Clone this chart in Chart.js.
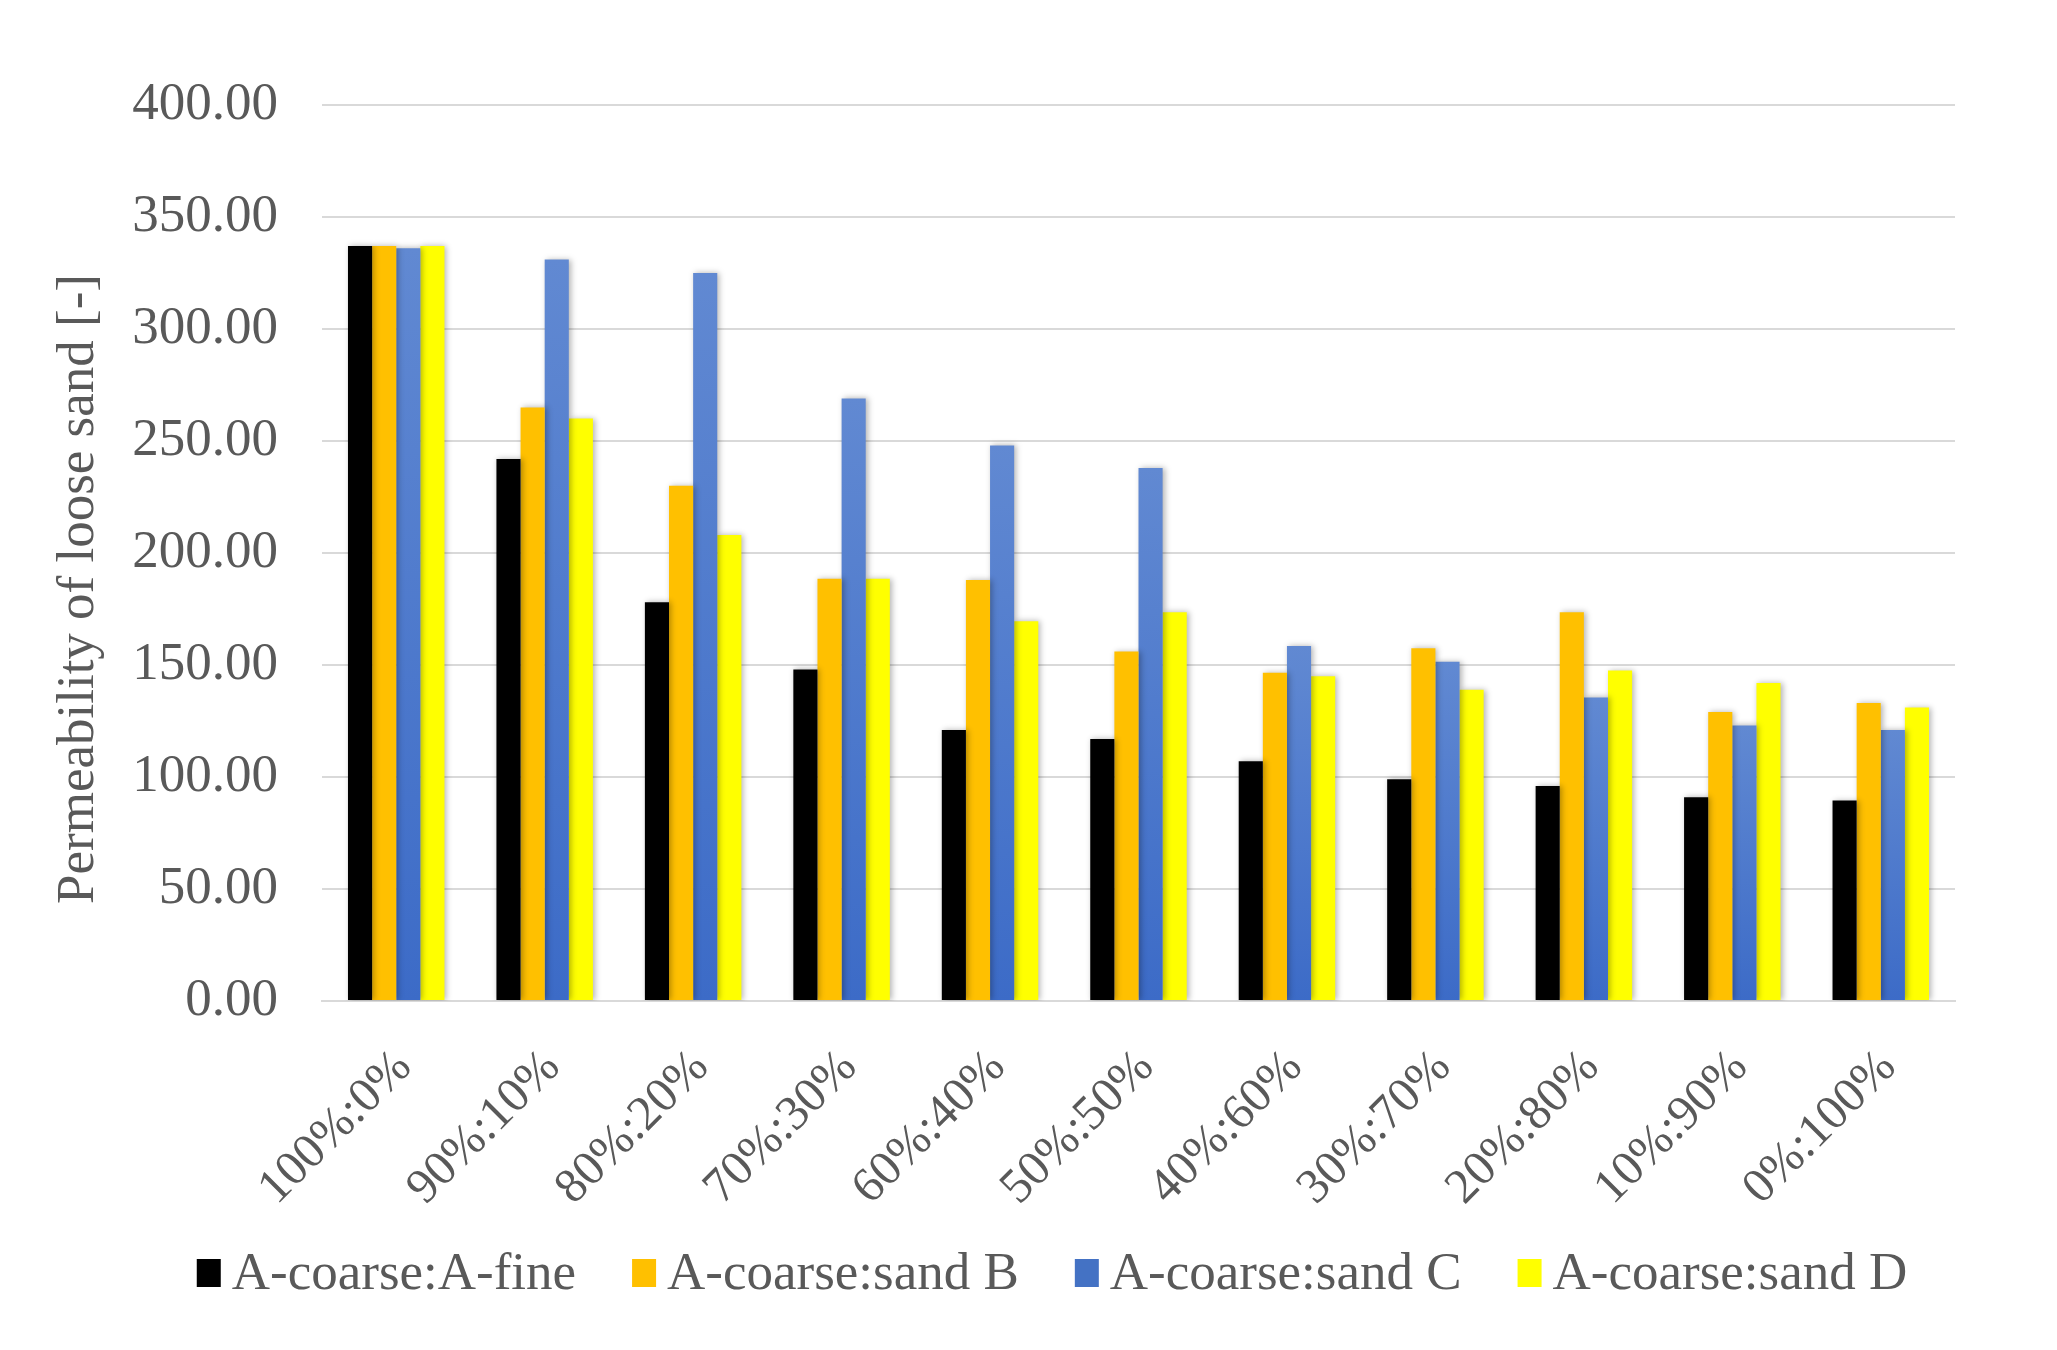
<!DOCTYPE html>
<html>
<head>
<meta charset="utf-8">
<script src="https://cdn.jsdelivr.net/npm/chart.js@4/dist/chart.umd.min.js"></script>
<style>
  html, body { margin: 0; padding: 0; background: #fff; }
  canvas { display: block; }
</style>
</head>
<body>
<canvas id="chart" width="2057" height="1350" style="width:2057px;height:1350px"></canvas>
<script>
const categories = ['100%:0%', '90%:10%', '80%:20%', '70%:30%', '60%:40%', '50%:50%',
                    '40%:60%', '30%:70%', '20%:80%', '10%:90%', '0%:100%'];
const seriesNames = ['A-coarse:A-fine', 'A-coarse:sand B', 'A-coarse:sand C', 'A-coarse:sand D'];

const aFine = [337, 242, 178, 148, 121, 117, 107, 99, 96, 91, 89.5];
const sandB = [337, 265, 230, 188.5, 188, 156, 146.5, 157.5, 173.5, 129, 133];
const sandC = [336, 331, 325, 269, 248, 238, 158.5, 151.5, 135.5, 123, 121];
const sandD = [337, 260, 208, 188.5, 169.5, 173.5, 145, 139, 147.5, 142, 131];

const yMax = 400;
const yStep = 50;
const yTitle = 'Permeability of loose sand [-]';

const FONT = "'Liberation Serif', 'Times New Roman', serif";
const TEXT = '#595959';
const GRID = '#d9d9d9';
const swatch = ['#000000', '#ffc000', '#4472c4', '#ffff00'];

// blue bars fade from a lighter top to a darker base, one gradient per bar
function blueFill(ctx) {
  const chart = ctx.chart;
  const y = chart.scales.y;
  if (!y || ctx.raw == null) return '#4472c4';
  const top = y.getPixelForValue(ctx.raw);
  const base = y.getPixelForValue(0);
  if (!Number.isFinite(top) || !Number.isFinite(base) || top === base) return '#4472c4';
  const g = chart.ctx.createLinearGradient(0, top, 0, base);
  g.addColorStop(0, '#6189d2');
  g.addColorStop(1, '#3c6bc7');
  return g;
}

const barShadow = {
  id: 'barShadow',
  beforeDatasetsDraw(chart) {
    const c = chart.ctx;
    c.save();
    c.shadowColor = 'rgba(0,0,0,0.30)';
    c.shadowBlur = 6;
    c.shadowOffsetX = 2;
    c.shadowOffsetY = 0;
  },
  afterDatasetsDraw(chart) {
    chart.ctx.restore();
  },
};

// y title sits a little below the plot's middle in the original, so draw it by hand
const yTitlePlugin = {
  id: 'yTitlePlugin',
  afterDraw(chart) {
    const c = chart.ctx;
    c.save();
    c.translate(79, 589);
    c.rotate(-Math.PI / 2);
    c.font = `53px ${FONT}`;
    c.fillStyle = TEXT;
    c.textAlign = 'center';
    c.textBaseline = 'middle';
    c.fillText(yTitle, 0, 0);
    c.restore();
  },
};

// legend row: small square, tight gap, label
const legendRow = {
  id: 'legendRow',
  afterDraw(chart) {
    const c = chart.ctx;
    c.save();
    c.font = `53px ${FONT}`;
    c.textBaseline = 'middle';
    const box = 24, gap = 11, sep = 56;
    const widths = seriesNames.map(s => c.measureText(s).width);
    const total = widths.reduce((a, w) => a + box + gap + w, 0) + sep * (seriesNames.length - 1);
    let x = 1052 - total / 2;
    const y = 1273;
    seriesNames.forEach((name, i) => {
      c.fillStyle = swatch[i];
      c.fillRect(x, y - 14, box, 28);
      c.fillStyle = TEXT;
      c.fillText(name, x + box + gap, y + 2);
      x += box + gap + widths[i] + sep;
    });
    c.restore();
  },
};

const colors = ['#000000', '#ffc000', blueFill, '#ffff00'];
const values = [aFine, sandB, sandC, sandD];

new Chart(document.getElementById('chart'), {
  type: 'bar',
  data: {
    labels: categories,
    datasets: values.map((v, i) => ({
      label: seriesNames[i],
      data: v,
      backgroundColor: colors[i],
      borderWidth: 0,
      categoryPercentage: 0.65,
      barPercentage: 1.0,
    })),
  },
  options: {
    responsive: false,
    animation: false,
    devicePixelRatio: 1,
    layout: { padding: { left: 0, right: 102, top: 105, bottom: 109 } },
    plugins: {
      tooltip: { enabled: false },
      legend: { display: false },
    },
    scales: {
      x: {
        grid: { display: false, drawTicks: false },
        border: { display: true, color: GRID, width: 2 },
        ticks: {
          color: TEXT,
          font: { family: FONT, size: 49 },
          minRotation: 45,
          maxRotation: 45,
          padding: 38,
          labelOffset: 8,
        },
        afterFit(scale) { scale.height = 240; },
      },
      y: {
        min: 0,
        max: yMax,
        grid: { color: GRID, lineWidth: 2, drawTicks: false },
        border: { display: false },
        ticks: {
          stepSize: yStep,
          color: TEXT,
          font: { family: FONT, size: 53 },
          padding: 44,
          callback: v => Number(v).toFixed(2),
        },
        afterFit(scale) { scale.width = 322; },
      },
    },
  },
  plugins: [barShadow, yTitlePlugin, legendRow],
});
</script>
</body>
</html>
